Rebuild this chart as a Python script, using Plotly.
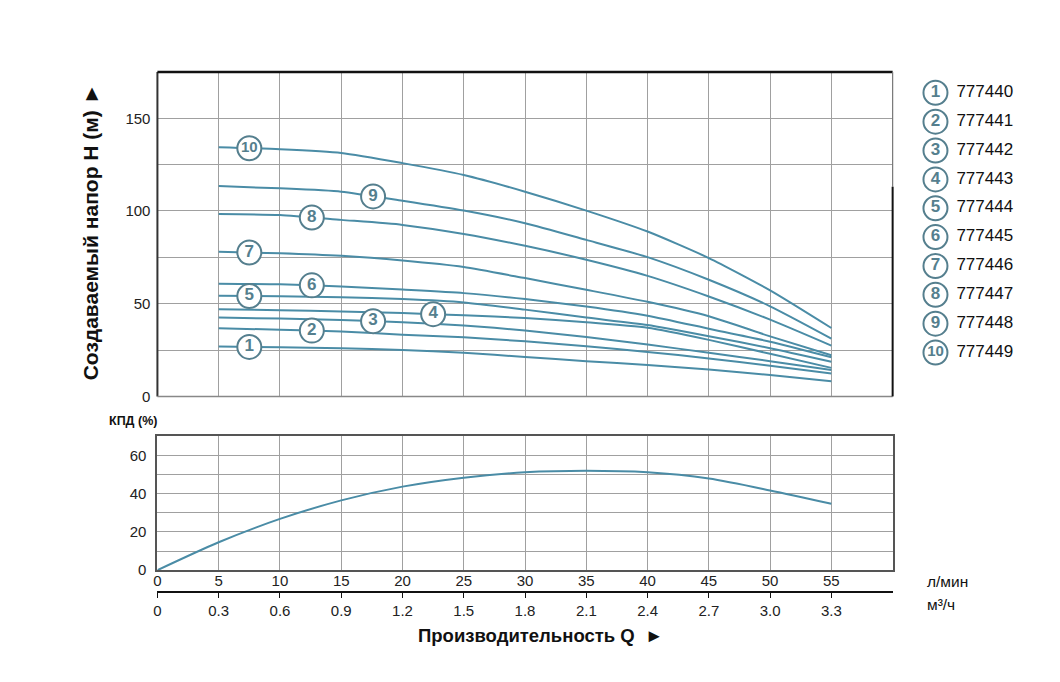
import numpy as np
import plotly.graph_objects as go

# ---------------------------------------------------------------------------
# данные
# ---------------------------------------------------------------------------
q_lmin = [5, 10, 15, 20, 25, 30, 35, 40, 45, 50, 55]

head = {
    1:  [26.9, 26.5, 26.0, 25.0, 23.5, 21.3, 19.0, 17.0, 14.5, 11.5, 8.2],
    2:  [36.7, 36.0, 35.0, 33.3, 31.9, 29.7, 27.0, 24.0, 20.5, 16.5, 12.4],
    3:  [42.5, 42.0, 41.2, 40.0, 38.2, 35.6, 32.0, 28.0, 23.5, 19.0, 14.2],
    4:  [47.0, 46.5, 45.8, 45.0, 43.7, 42.3, 40.0, 37.0, 30.5, 23.0, 15.4],
    5:  [54.3, 54.0, 53.5, 52.5, 50.7, 46.8, 42.5, 38.5, 32.5, 26.0, 18.7],
    6:  [60.8, 60.5, 59.3, 57.6, 55.7, 52.5, 48.5, 43.5, 36.5, 29.5, 21.1],
    7:  [78.0, 77.2, 75.8, 73.3, 69.8, 63.8, 57.5, 51.0, 43.2, 32.4, 22.2],
    8:  [98.4, 97.8, 95.2, 92.5, 87.6, 81.2, 73.7, 65.0, 53.9, 41.4, 27.4],
    9:  [113.4, 112.2, 110.4, 105.5, 100.2, 93.4, 84.4, 75.1, 62.9, 48.6, 31.2],
    10: [134.4, 133.3, 131.3, 125.8, 119.4, 110.4, 100.2, 88.9, 74.6, 57.2, 36.9],
}
label_q = {1: 7.5, 2: 12.6, 3: 17.6, 4: 22.5, 5: 7.5,
           6: 12.6, 7: 7.5, 8: 12.6, 9: 17.6, 10: 7.5}

codes = ["777440", "777441", "777442", "777443", "777444",
         "777445", "777446", "777447", "777448", "777449"]

eff_q = [0, 5, 10, 15, 20, 25, 30, 35, 40, 45, 50, 55]
eff = [0, 14.6, 26.8, 36.5, 43.7, 48.4, 51.2, 52.0, 51.2, 47.9, 41.7, 34.7]

q_ticks = [0, 5, 10, 15, 20, 25, 30, 35, 40, 45, 50, 55]
m3h_ticks = [0, 0.3, 0.6, 0.9, 1.2, 1.5, 1.8, 2.1, 2.4, 2.7, 3.0, 3.3]

# ---------------------------------------------------------------------------
W, H = 1060, 682
H_REND = 675          # фактическая высота отрисовки по вертикали
LINE = "#4a8ca6"
RING = "#557f8e"
FONT = "Arial, Liberation Sans, sans-serif"


def px_x(p):
    return (p - 1) / W


def px_y(p):
    return 1 - p / H_REND


fig = go.Figure()

# ── кривые напора ────────────────────────────────────────────────
for n, h in head.items():
    fig.add_trace(go.Scatter(
        x=q_lmin, y=h, mode="lines",
        line=dict(color=LINE, width=2, shape="spline", smoothing=0.6),
        xaxis="x", yaxis="y", showlegend=False, hoverinfo="skip",
    ))

# номера в кружках на кривых
num_font = dict(family=FONT, size=[17] * 9 + [15], color=RING, weight="bold")
ring = dict(symbol="circle", size=24, color="white", line=dict(color=RING, width=2))

lx = [label_q[n] for n in head]
ly = [float(np.interp(label_q[n], q_lmin, head[n])) for n in head]
fig.add_trace(go.Scatter(
    x=lx, y=ly, mode="markers+text",
    text=[str(n) for n in head], textposition="middle center",
    textfont=num_font, marker=ring,
    xaxis="x", yaxis="y", showlegend=False, hoverinfo="skip",
))

# ── КПД ─────────────────────────────────────────────────────────
fig.add_trace(go.Scatter(
    x=eff_q, y=eff, mode="lines",
    line=dict(color=LINE, width=2, shape="spline", smoothing=0.8),
    xaxis="x2", yaxis="y2", showlegend=False, hoverinfo="skip",
))

# пустая трасса для оси м³/ч
fig.add_trace(go.Scatter(x=[None], y=[None], xaxis="x3", yaxis="y2",
                         showlegend=False, hoverinfo="skip"))

# ── легенда справа ───────────────────────────────────────────────
idx = list(range(len(codes)))
fig.add_trace(go.Scatter(
    x=[16] * len(codes), y=idx, mode="markers+text",
    text=[str(i + 1) for i in idx], textposition="middle center",
    textfont=num_font, marker=ring,
    xaxis="x4", yaxis="y4", showlegend=False, hoverinfo="skip",
))
fig.add_trace(go.Scatter(
    x=[37] * len(codes), y=idx, mode="text", text=codes,
    textposition="middle right",
    textfont=dict(family=FONT, size=17, color="#111"),
    xaxis="x4", yaxis="y4", showlegend=False, hoverinfo="skip",
))

# ── оси ──────────────────────────────────────────────────────────
dom_x = [px_x(155), px_x(893)]
grid = dict(showgrid=True, gridcolor="#a0a0a0", gridwidth=1, zeroline=False)
tick_font = dict(family=FONT, size=15, color="#222")

fig.update_layout(
    width=W, height=H, autosize=False,
    margin=dict(l=0, r=0, t=0, b=0),
    paper_bgcolor="white", plot_bgcolor="white",
    font=dict(family=FONT),
    xaxis=dict(domain=dom_x, anchor="y", range=[0, 60], tickvals=q_ticks,
               showticklabels=False, showline=False, **grid),
    yaxis=dict(domain=[px_y(397), px_y(72)], anchor="x", range=[0, 175],
               tickvals=[0, 25, 50, 75, 100, 125, 150],
               ticktext=["0", "", "50", "", "100", "", "150"],
               tickfont=tick_font, ticklabelstandoff=6,
               showline=False, **grid),
    xaxis2=dict(domain=dom_x, anchor="y2", range=[0, 60], tickvals=q_ticks,
                tickfont=tick_font, ticklabelstandoff=-4,
                showline=True, linecolor="#555", linewidth=2, mirror=True,
                **grid),
    yaxis2=dict(domain=[px_y(571), px_y(437)], anchor="x2", range=[0, 70],
                tickvals=[0, 10, 20, 30, 40, 50, 60],
                ticktext=["0", "", "20", "", "40", "", "60"],
                tickfont=tick_font, ticklabelstandoff=6,
                showline=True, linecolor="#555", linewidth=2, mirror=True,
                **grid),
    xaxis3=dict(overlaying="x2", anchor="free", position=px_y(593),
                range=[0, 3.6], tickvals=m3h_ticks,
                ticktext=["0"] + [f"{v:.1f}" for v in m3h_ticks[1:]],
                ticks="outside", ticklen=5, tickcolor="#111",
                tickfont=tick_font, showline=True, linecolor="#111",
                linewidth=1.5, showgrid=False, zeroline=False),
    xaxis4=dict(domain=[px_x(920), px_x(1050)], anchor="y4", range=[0, 130],
                visible=False),
    yaxis4=dict(domain=[px_y(367.5), px_y(78.5)], anchor="x4",
                range=[9.5, -0.5], visible=False),
)

# рамка верхней панели (разная толщина сторон, как на оригинале)
frame = [
    (0, 0, 0, 1, "#333", 2),          # левая
    (0, 1, 1, 1, "#111", 2.5),        # верхняя
    (0, 0, 1, 0, "#888", 1.5),        # нижняя
    (1, 1, 1, 1 - (187 - 72) / (397 - 72), "#777", 1.2),  # правая, верх
    (1, 0, 1, 1 - (187 - 72) / (397 - 72), "#111", 2),    # правая, низ
]
for x0, y0, x1, y1, c, w in frame:
    fig.add_shape(type="line", xref="x domain", yref="y domain",
                  x0=x0, y0=y0, x1=x1, y1=y1, line=dict(color=c, width=w))


# ── подписи ──────────────────────────────────────────────────────
def label(text, x, y, size, xanchor="center", angle=0):
    fig.add_annotation(
        text=text, textangle=angle, xref="paper", yref="paper",
        x=px_x(x), y=px_y(y), xanchor=xanchor, yanchor="middle",
        showarrow=False, font=dict(family=FONT, size=size, color="#111"),
    )


label("<b>Создаваемый напор H (м) ►</b>", 88, 232, 21, angle=-90)
label("<b>КПД (%)</b>", 130, 422, 12.5)
label("<b>Производительность Q  ►</b>", 540, 636, 18.5)
label("л/мин", 925, 582, 15.5, xanchor="left")
label("м³/ч", 925, 605, 15.5, xanchor="left")

fig.write_html(
    "out.html",
    config={"displayModeBar": False, "responsive": False},
    post_script="document.body.style.margin='0px';"
                "document.body.style.overflow='hidden';",
)
